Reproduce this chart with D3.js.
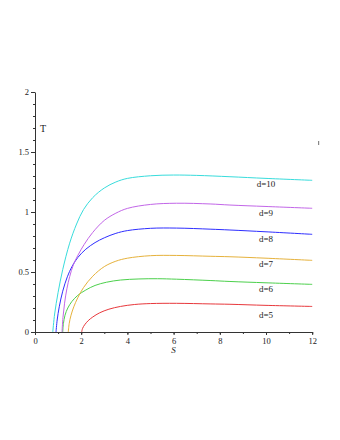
<!DOCTYPE html>
<html>
<head>
<meta charset="utf-8">
<script src="https://cdn.jsdelivr.net/npm/d3@7"></script>
<style>
  body { margin: 0; background: #fff; }
  text { font-family: "Liberation Serif", "DejaVu Serif", serif; fill: #222; }
</style>
</head>
<body>
<div id="wrapper"></div>
<script>
// curve data: [S, T]
const d5 = [[2.02, 0], [2.06, 0.03], [2.15, 0.06], [2.3, 0.094], [2.5, 0.125], [2.8, 0.16], [3.2, 0.19], [3.7, 0.213], [4.3, 0.229], [5, 0.237], [6.13, 0.239], [7.58, 0.234], [8.44, 0.231], [10, 0.222], [12, 0.213]]
const d6 = [[1.20, 0], [1.23, 0.07], [1.30, 0.14], [1.42, 0.20], [1.6, 0.255], [1.85, 0.305], [2.2, 0.35], [2.6, 0.388], [3.1, 0.415], [3.7, 0.433], [4.5, 0.442], [5.3, 0.444], [6.13, 0.440], [7.58, 0.429], [8.44, 0.421], [10, 0.410], [12, 0.397]]
const d7 = [[1.44, 0], [1.48, 0.07], [1.56, 0.14], [1.68, 0.21], [1.85, 0.285], [2.1, 0.37], [2.5, 0.465], [3.0, 0.545], [3.5, 0.59], [4.0, 0.615], [5, 0.636], [6.13, 0.638], [7.58, 0.631], [8.44, 0.627], [10, 0.615], [12, 0.597]]
const d8 = [[0.91, 0], [0.96, 0.10], [1.05, 0.21], [1.2, 0.34], [1.4, 0.46], [1.6, 0.545], [1.85, 0.62], [2.2, 0.69], [2.6, 0.745], [3.0, 0.785], [3.5, 0.822], [4.0, 0.845], [5, 0.864], [6.13, 0.866], [7.58, 0.857], [8.44, 0.850], [10, 0.835], [12, 0.814]]
const d9 = [[1.17, 0], [1.21, 0.12], [1.28, 0.24], [1.38, 0.36], [1.5, 0.46], [1.66, 0.56], [1.86, 0.64], [2.13, 0.73], [2.5, 0.83], [3.0, 0.93], [3.5, 0.99], [4.0, 1.03], [5, 1.063], [6.13, 1.073], [7.58, 1.067], [8.44, 1.058], [10, 1.046], [12, 1.031]]
const d10 = [[0.77, 0], [0.85, 0.15], [1.0, 0.33], [1.2, 0.52], [1.5, 0.74], [1.8, 0.90], [2.1, 1.02], [2.5, 1.12], [3.0, 1.20], [3.5, 1.25], [4.0, 1.28], [5, 1.302], [6, 1.308], [7, 1.305], [8.44, 1.294], [10, 1.280], [12, 1.264]]

const curveNames = ["d=5", "d=6", "d=7", "d=8", "d=9", "d=10"]
const curveData = [d5, d6, d7, d8, d9, d10]
const curveColors = ["#e8383c", "#4cd04c", "#e6b23c", "#2e2eff", "#c266e8", "#38dcdc"]
// where the d= labels sit, in chart units
const labelS = [10, 10, 10, 10, 10, 10]
const labelT = [0.142, 0.356, 0.564, 0.775, 0.994, 1.233]

const xTicks = [0, 2, 4, 6, 8, 10, 12]
const yTicks = [0, 0.5, 1, 1.5, 2]

function drawChart() {

  // 1. dimensions
  let dimensions = {
    width: 340,
    height: 440,
    margin: { top: 92, right: 28, bottom: 108, left: 35 },
  }
  dimensions.boundedWidth = 12 * 23.1
  dimensions.boundedHeight = dimensions.height - dimensions.margin.top - dimensions.margin.bottom

  // 2. canvas
  const wrapper = d3.select("#wrapper")
    .append("svg")
    .attr("width", dimensions.width)
    .attr("height", dimensions.height)

  wrapper.append("rect")
    .attr("width", dimensions.width)
    .attr("height", dimensions.height)
    .attr("fill", "#fff")

  const bounds = wrapper.append("g")
    .attr("transform", `translate(${dimensions.margin.left}, ${dimensions.margin.top})`)

  // 3. scales
  const xScale = d3.scaleLinear()
    .domain([0, 12])
    .range([0, dimensions.boundedWidth])

  const yScale = d3.scaleLinear()
    .domain([0, 2])
    .range([dimensions.boundedHeight, 0])

  // 4. curves
  const lineGen = d3.line()
    .x(d => xScale(d[0]))
    .y(d => yScale(d[1]))
    .curve(d3.curveCatmullRom.alpha(0.5))

  bounds.selectAll(".curve")
    .data(curveData)
    .enter().append("path")
    .attr("class", "curve")
    .attr("d", lineGen)
    .attr("fill", "none")
    .attr("stroke", (d, i) => curveColors[i])
    .attr("stroke-width", 1)

  bounds.selectAll(".curve-label")
    .data(curveNames)
    .enter().append("text")
    .attr("class", "curve-label")
    .attr("x", (d, i) => xScale(labelS[i]))
    .attr("y", (d, i) => yScale(labelT[i]))
    .attr("dy", "0.35em")
    .attr("text-anchor", "middle")
    .style("font-size", "9px")
    .text(d => d)

  // 5. axes (minor ticks first, then major with labels)
  const axisColor = "#333"

  const xMinor = bounds.append("g")
    .attr("transform", `translate(0, ${dimensions.boundedHeight})`)
    .call(d3.axisBottom(xScale).tickValues(d3.range(0, 13, 1)).tickSize(2).tickFormat(""))
  const xAxis = bounds.append("g")
    .attr("transform", `translate(0, ${dimensions.boundedHeight})`)
    .call(d3.axisBottom(xScale).tickValues(xTicks).tickSize(3).tickPadding(3).tickSizeOuter(0))

  const yMinor = bounds.append("g")
    .call(d3.axisLeft(yScale).tickValues(d3.range(0, 2.01, 0.1)).tickSize(2).tickFormat(""))
  const yAxis = bounds.append("g")
    .call(d3.axisLeft(yScale).tickValues(yTicks).tickSize(4).tickPadding(2).tickSizeOuter(0).tickFormat(d3.format("")))

  ;[xMinor, xAxis, yMinor, yAxis].forEach(g => {
    g.selectAll("path").attr("stroke", axisColor)
    g.selectAll("line").attr("stroke", axisColor)
    g.selectAll("text")
      .style("font-family", '"Liberation Serif", serif')
      .style("font-size", "8.5px")
      .attr("fill", "#222")
  })
  xMinor.select("path").remove()
  yMinor.select("path").remove()

  // axis titles
  bounds.append("text")
    .attr("x", xScale(6))
    .attr("y", dimensions.boundedHeight + 18)
    .attr("dy", "0.35em")
    .attr("text-anchor", "middle")
    .style("font-size", "9px")
    .style("font-style", "italic")
    .text("S")

  bounds.append("text")
    .attr("x", 8)
    .attr("y", yScale(1.7))
    .attr("dy", "0.35em")
    .attr("text-anchor", "middle")
    .style("font-size", "10px")
    .text("T")

  // small stray mark at right edge
  wrapper.append("rect")
    .attr("x", 318)
    .attr("y", 141)
    .attr("width", 1.2)
    .attr("height", 4)
    .attr("fill", "#888")
}
drawChart()
</script>
</body>
</html>
